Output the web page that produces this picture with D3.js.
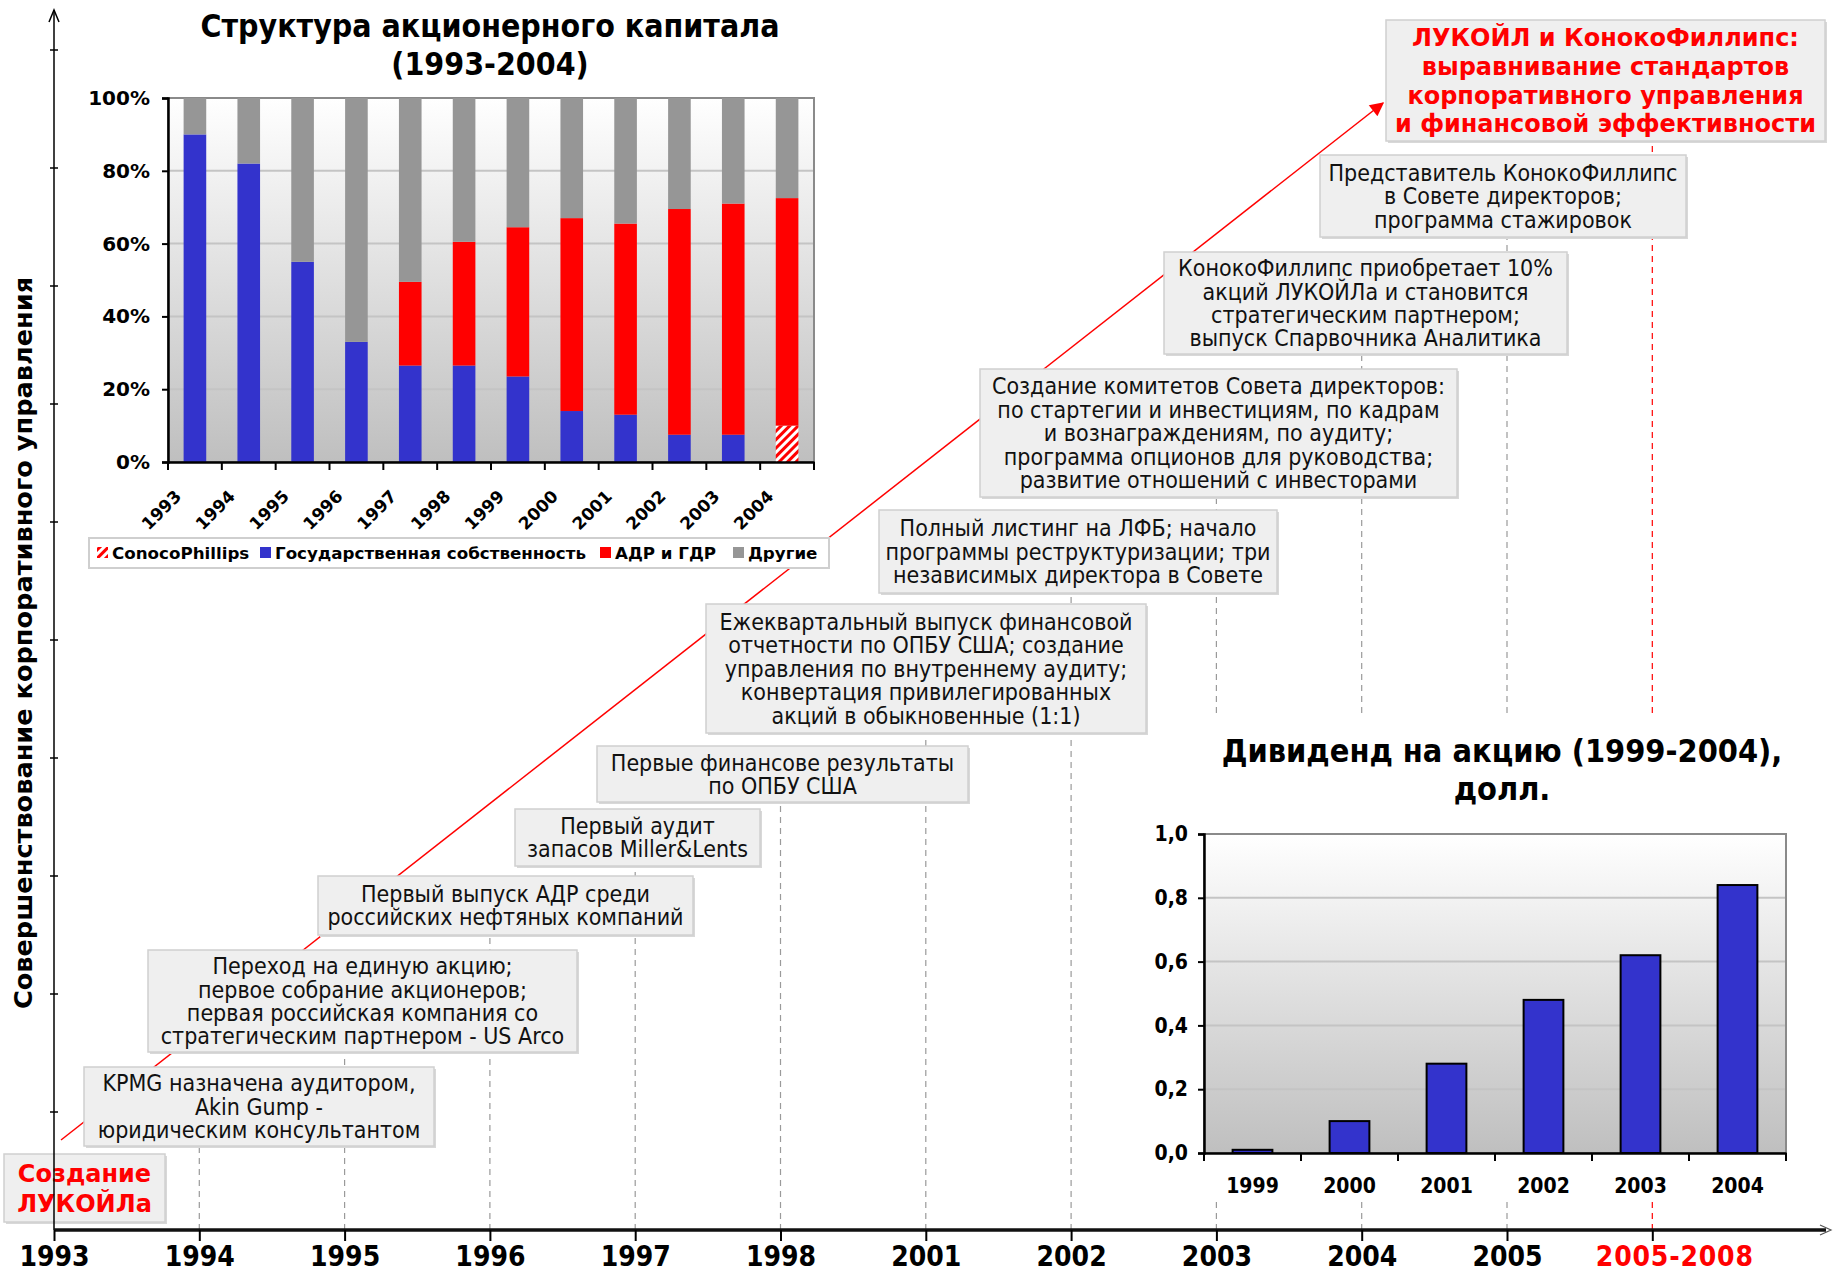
<!DOCTYPE html>
<html><head><meta charset="utf-8">
<script src="https://cdnjs.cloudflare.com/ajax/libs/d3/7.8.5/d3.min.js"></script>
<style>
html,body{margin:0;padding:0;background:#fff;}
svg{display:block;}
</style></head>
<body>
<svg id="c" width="1833" height="1273"></svg>
<script>
// ---------- DATA ----------
const timelineYears = ["1993","1994","1995","1996","1997","1998","2001","2002","2003","2004","2005","2005-2008"];
const eventTexts = [
  ["Создание","ЛУКОЙЛа"],
  ["KPMG назначена аудитором,","Akin Gump -","юридическим консультантом"],
  ["Переход на единую акцию;","первое собрание акционеров;","первая российская компания со","стратегическим партнером - US Arco"],
  ["Первый выпуск АДР среди","российских нефтяных компаний"],
  ["Первый аудит","запасов Miller&Lents"],
  ["Первые финансове результаты","по ОПБУ США"],
  ["Ежеквартальный выпуск финансовой","отчетности по ОПБУ США; создание","управления по внутреннему аудиту;","конвертация привилегированных","акций в обыкновенные (1:1)"],
  ["Полный листинг на ЛФБ; начало","программы реструктуризации; три","независимых директора в Совете"],
  ["Создание комитетов Совета директоров:","по стартегии и инвестициям, по кадрам","и вознаграждениям, по аудиту;","программа опционов для руководства;","развитие отношений с инвесторами"],
  ["КонокоФиллипс приобретает 10%","акций ЛУКОЙЛа и становится","стратегическим партнером;","выпуск Спарвочника Аналитика"],
  ["Представитель КонокоФиллипс","в Совете директоров;","программа стажировок"],
  ["ЛУКОЙЛ и КонокоФиллипс:","выравнивание стандартов","корпоративного управления","и финансовой эффективности"]
];
const yAxisTitle = "Совершенствование корпоративного управления";

const shareTitle = ["Структура акционерного капитала","(1993-2004)"];
const shareYears = ["1993","1994","1995","1996","1997","1998","1999","2000","2001","2002","2003","2004"];
const shareSeries = ["ConocoPhillips","Государственная собственность","АДР и ГДР","Другие"];
const conocoShare = [0,0,0,0,0,0,0,0,0,0,0,10];
const stateShare  = [90,82,55,33,26.5,26.5,23.5,14,13,7.5,7.5,0];
const adrShare    = [0,0,0,0,23,34,41,53,52.5,62,63.5,62.5];
const otherShare  = [10,18,45,67,50.5,39.5,35.5,33,34.5,30.5,29,27.5];
const shareTicks  = [0,20,40,60,80,100];

const divTitle = ["Дивиденд на акцию (1999-2004),","долл."];
const divYears = ["1999","2000","2001","2002","2003","2004"];
const divValues = [0.01,0.10,0.28,0.48,0.62,0.84];
const divTicks = [0,0.2,0.4,0.6,0.8,1.0];

// ---------- LAYOUT ----------
const FC = "'DejaVu Sans Condensed','DejaVu Sans',sans-serif";
const FB = "'DejaVu Sans',sans-serif";
const svg = d3.select("#c");
const defs = svg.append("defs");

const grad = defs.append("linearGradient").attr("id","bg").attr("x1",0).attr("y1",0).attr("x2",0).attr("y2",1);
grad.append("stop").attr("offset","0%").attr("stop-color","#ffffff");
grad.append("stop").attr("offset","100%").attr("stop-color","#bfbfbf");

const pat = defs.append("pattern").attr("id","hatch").attr("patternUnits","userSpaceOnUse")
  .attr("width",6).attr("height",6).attr("patternTransform","rotate(45)");
pat.append("rect").attr("width",6).attr("height",6).attr("fill","#fff");
pat.append("rect").attr("width",3).attr("height",6).attr("fill","#ff0000");

const mk = defs.append("marker").attr("id","redArrow").attr("viewBox","0 0 10 10").attr("refX",9).attr("refY",5)
  .attr("orient","auto").attr("markerUnits","userSpaceOnUse")
  .attr("markerWidth",16).attr("markerHeight",14);
mk.append("path").attr("d","M0,0 L10,5 L0,10 z").attr("fill","#ff0000");

const axY = 1230, axX = 54;
const x = d3.scalePoint().domain(timelineYears).range([axX, axX + 11*145.3]);

// box layout for each event (annotation placement)
const boxes = [
  {x:4,   y:1154, w:161, h:68,  red:true, bold:true, fs:24, lh:30},
  {x:84,  y:1067, w:350, h:79},
  {x:148, y:950,  w:429, h:102},
  {x:318, y:876,  w:375, h:59},
  {x:515, y:809,  w:245, h:57},
  {x:597, y:746,  w:371, h:56},
  {x:706, y:604,  w:440, h:129},
  {x:879, y:510,  w:398, h:83},
  {x:980, y:369,  w:477, h:128},
  {x:1164,y:252,  w:403, h:102},
  {x:1320,y:155,  w:366, h:82},
  {x:1386,y:20,   w:439, h:121, red:true, bold:true, fs:24, lh:28.8}
];

// dashed connectors
const gDash = svg.append("g");
timelineYears.forEach((yr,i)=>{
  if(i===0) return;
  const b = boxes[i];
  gDash.append("line").attr("x1",x(yr)).attr("x2",x(yr)).attr("y1",axY).attr("y2",b.y+b.h)
    .attr("stroke", i===11 ? "#ff0000" : "#9a9a9a").attr("stroke-width",1.2)
    .attr("stroke-dasharray","6,5");
});

// red progress line
svg.append("line").attr("x1",61).attr("y1",1140).attr("x2",1383).attr("y2",103)
  .attr("stroke","#ff0000").attr("stroke-width",1.5).attr("marker-end","url(#redArrow)");

// event boxes
const gBox = svg.append("g");
eventTexts.forEach((lines,i)=>{
  const b = boxes[i];
  const fs = b.fs || 23, lh = b.lh || 23.4;
  gBox.append("rect").attr("x",b.x+2).attr("y",b.y+2).attr("width",b.w).attr("height",b.h).attr("fill","#d8d8d8");
  gBox.append("rect").attr("x",b.x).attr("y",b.y).attr("width",b.w).attr("height",b.h)
    .attr("fill","#efefef").attr("stroke","#d0d0d0").attr("stroke-width",1.5);
  const cy = b.y + b.h/2 - (lines.length-1)*lh/2;
  const t = gBox.append("text").attr("text-anchor","middle")
    .attr("font-family", b.bold ? FB : FC).attr("font-size",fs)
    .attr("font-weight", b.bold ? "bold" : "normal")
    .attr("fill", b.red ? "#ff0000" : "#111");
  lines.forEach((ln,j)=>{
    t.append("tspan").attr("x",b.x+b.w/2).attr("y",cy + j*lh).attr("dy","0.36em").text(ln);
  });
});

// ---------- main axes ----------
// white cover behind dividend chart
svg.append("rect").attr("x",1160).attr("y",716).attr("width",673).attr("height",482).attr("fill","#fff");

// vertical axis
svg.append("line").attr("x1",axX).attr("x2",axX).attr("y1",axY).attr("y2",10).attr("stroke","#000").attr("stroke-width",1.5);
svg.append("path").attr("d",`M${axX-5},${22} L${axX},${10} L${axX+5},${22}`).attr("fill","none").attr("stroke","#000").attr("stroke-width",1.5);
d3.range(1,11).forEach(k=>{
  svg.append("line").attr("x1",axX-4).attr("x2",axX+4).attr("y1",axY-k*118).attr("y2",axY-k*118).attr("stroke","#000").attr("stroke-width",1.5);
});
svg.append("text").attr("transform",`translate(32,${643}) rotate(-90)`).attr("text-anchor","middle")
  .attr("font-family",FB).attr("font-weight","bold").attr("font-size",25.6).attr("fill","#000").text(yAxisTitle);

// horizontal axis
svg.append("line").attr("x1",axX).attr("x2",1826).attr("y1",axY).attr("y2",axY).attr("stroke","#111").attr("stroke-width",3.5);
svg.append("path").attr("d",`M1820,${axY-5} L1831,${axY} L1820,${axY+5}`).attr("fill","none").attr("stroke","#555").attr("stroke-width",1.2);
const gx = svg.append("g").attr("transform",`translate(0,${axY})`)
  .call(d3.axisBottom(x).tickSizeInner(11).tickSizeOuter(0).tickPadding(5));
gx.select(".domain").remove();
gx.selectAll(".tick line").attr("stroke","#000").attr("stroke-width",2);
gx.selectAll(".tick text").attr("font-family",FC).attr("font-weight","bold")
  .attr("font-size",28)
  .attr("letter-spacing",d=>d==="2005-2008"?"0.8px":null)
  .attr("dx",d=>d==="2005-2008"?22:0)
  .attr("fill",d=>d==="2005-2008"?"#ff0000":"#000");

// ---------- Share structure chart ----------
const sc = {l:168, r:814, t:98, b:462};
const sx = d3.scaleBand().domain(shareYears).range([sc.l, sc.r]).paddingInner(0.58).paddingOuter(0.29);
const sxTicks = d3.scaleBand().domain(shareYears).range([sc.l, sc.r]);
const sy = d3.scaleLinear().domain([0,100]).range([sc.b, sc.t]);
const gS = svg.append("g");
gS.append("rect").attr("x",sc.l).attr("y",sc.t).attr("width",sc.r-sc.l).attr("height",sc.b-sc.t).attr("fill","url(#bg)");
gS.selectAll(".gl").data(shareTicks.slice(1,-1)).join("line").attr("x1",sc.l).attr("x2",sc.r)
  .attr("y1",d=>sy(d)).attr("y2",d=>sy(d)).attr("stroke","#c4c4c4").attr("stroke-width",2);
gS.append("rect").attr("x",sc.l).attr("y",sc.t).attr("width",sc.r-sc.l).attr("height",sc.b-sc.t).attr("fill","none").attr("stroke","#8a8a8a").attr("stroke-width",2);

const shareRows = shareYears.map((yr,i)=>({yr, vals:[conocoShare[i],stateShare[i],adrShare[i],otherShare[i]]}));
const shareFills = ["url(#hatch)","#3333cc","#ff0000","#969696"];
const stack = d3.stack().keys([0,1,2,3]).value((d,k)=>d.vals[k]);
const stacked = stack(shareRows);
stacked.forEach((layer,k)=>{
  gS.selectAll(".s"+k).data(layer).join("rect")
    .attr("x",d=>sx(d.data.yr)).attr("width",sx.bandwidth())
    .attr("y",d=>sy(d[1])).attr("height",d=>Math.max(0,sy(d[0])-sy(d[1])))
    .attr("fill",shareFills[k]);
});
const syAx = gS.append("g").attr("transform",`translate(${sc.l},0)`)
  .call(d3.axisLeft(sy).tickValues(shareTicks).tickFormat(d=>d+"%").tickSize(6).tickPadding(12));
syAx.select(".domain").attr("stroke","#000").attr("stroke-width",2.5);
syAx.selectAll(".tick line").attr("stroke","#000").attr("stroke-width",2);
syAx.selectAll(".tick text").attr("font-family",FB).attr("font-weight","bold").attr("font-size",20).attr("fill","#000");
const sxAx = gS.append("g").attr("transform",`translate(0,${sc.b})`)
  .call(d3.axisBottom(sxTicks).tickSize(0).tickFormat(""));
sxAx.select(".domain").attr("stroke","#000").attr("stroke-width",2.5);
gS.selectAll(".stk").data(shareYears.concat(["end"])).join("line")
  .attr("x1",(d,i)=>sc.l + i*sxTicks.step()).attr("x2",(d,i)=>sc.l + i*sxTicks.step())
  .attr("y1",sc.b).attr("y2",sc.b+8).attr("stroke","#000").attr("stroke-width",2);
gS.selectAll(".sxl").data(shareYears).join("text")
  .attr("transform",d=>`translate(${sxTicks(d)+sxTicks.bandwidth()/2-21},${sc.b+27}) rotate(-45)`)
  .attr("text-anchor","end").attr("dy","0.7em")
  .attr("font-family",FB).attr("font-weight","bold").attr("font-size",17).attr("fill","#000").text(d=>d);
const stt = gS.append("text").attr("text-anchor","middle").attr("font-family",FC).attr("font-weight","bold").attr("font-size",31.8).attr("fill","#000");
shareTitle.forEach((ln,j)=>stt.append("tspan").attr("x",490).attr("y",37+j*38).text(ln));

// legend
const lg = gS.append("g");
lg.append("rect").attr("x",89).attr("y",538).attr("width",740).attr("height",30).attr("fill","#fff").attr("stroke","#cfcfcf").attr("stroke-width",2);
const legX = [97,260,600,733];
shareSeries.forEach((s,k)=>{
  lg.append("rect").attr("x",legX[k]).attr("y",547).attr("width",11).attr("height",11).attr("fill",shareFills[k]);
  lg.append("text").attr("x",legX[k]+15).attr("y",553).attr("dy","0.36em").attr("font-family",FB).attr("font-weight","bold")
    .attr("font-size",16.7).attr("fill","#000").text(s);
});

// ---------- Dividend chart ----------
const dc = {l:1204, r:1786, t:834, b:1153};
const dx = d3.scaleBand().domain(divYears).range([dc.l, dc.r]).paddingInner(0.59).paddingOuter(0.295);
const dxT = d3.scaleBand().domain(divYears).range([dc.l, dc.r]);
const dy = d3.scaleLinear().domain([0,1]).range([dc.b, dc.t]);
const gD = svg.append("g");
gD.append("rect").attr("x",dc.l).attr("y",dc.t).attr("width",dc.r-dc.l).attr("height",dc.b-dc.t).attr("fill","url(#bg)");
gD.selectAll(".gl").data(divTicks.slice(1,-1)).join("line").attr("x1",dc.l).attr("x2",dc.r)
  .attr("y1",d=>dy(d)).attr("y2",d=>dy(d)).attr("stroke","#c4c4c4").attr("stroke-width",2);
gD.append("rect").attr("x",dc.l).attr("y",dc.t).attr("width",dc.r-dc.l).attr("height",dc.b-dc.t).attr("fill","none").attr("stroke","#8a8a8a").attr("stroke-width",2);
gD.selectAll(".db").data(divYears).join("rect")
  .attr("x",d=>dx(d)).attr("width",dx.bandwidth())
  .attr("y",(d,i)=>dy(divValues[i])).attr("height",(d,i)=>dc.b-dy(divValues[i]))
  .attr("fill","#3333cc").attr("stroke","#000").attr("stroke-width",2);
const dyAx = gD.append("g").attr("transform",`translate(${dc.l},0)`)
  .call(d3.axisLeft(dy).tickValues(divTicks).tickFormat(d=>d3.format(".1f")(d).replace(".",",")).tickSize(6).tickPadding(10));
dyAx.select(".domain").attr("stroke","#000").attr("stroke-width",2.5);
dyAx.selectAll(".tick line").attr("stroke","#000").attr("stroke-width",2);
dyAx.selectAll(".tick text").attr("font-family",FC).attr("font-weight","bold").attr("font-size",21).attr("fill","#000");
const dxAx = gD.append("g").attr("transform",`translate(0,${dc.b})`)
  .call(d3.axisBottom(dxT).tickSize(0).tickPadding(25));
dxAx.select(".domain").attr("stroke","#000").attr("stroke-width",2.5);
dxAx.selectAll(".tick text").attr("font-family",FC).attr("font-weight","bold").attr("font-size",21).attr("fill","#000");
gD.selectAll(".dtk").data(divYears.concat(["end"])).join("line")
  .attr("x1",(d,i)=>dc.l + i*dxT.step()).attr("x2",(d,i)=>dc.l + i*dxT.step())
  .attr("y1",dc.b).attr("y2",dc.b+8).attr("stroke","#000").attr("stroke-width",2);
const dtt = gD.append("text").attr("text-anchor","middle").attr("font-family",FC).attr("font-weight","bold").attr("font-size",32.2).attr("fill","#000");
divTitle.forEach((ln,j)=>dtt.append("tspan").attr("x",1502).attr("y",762+j*38).text(ln));
</script>
</body></html>
